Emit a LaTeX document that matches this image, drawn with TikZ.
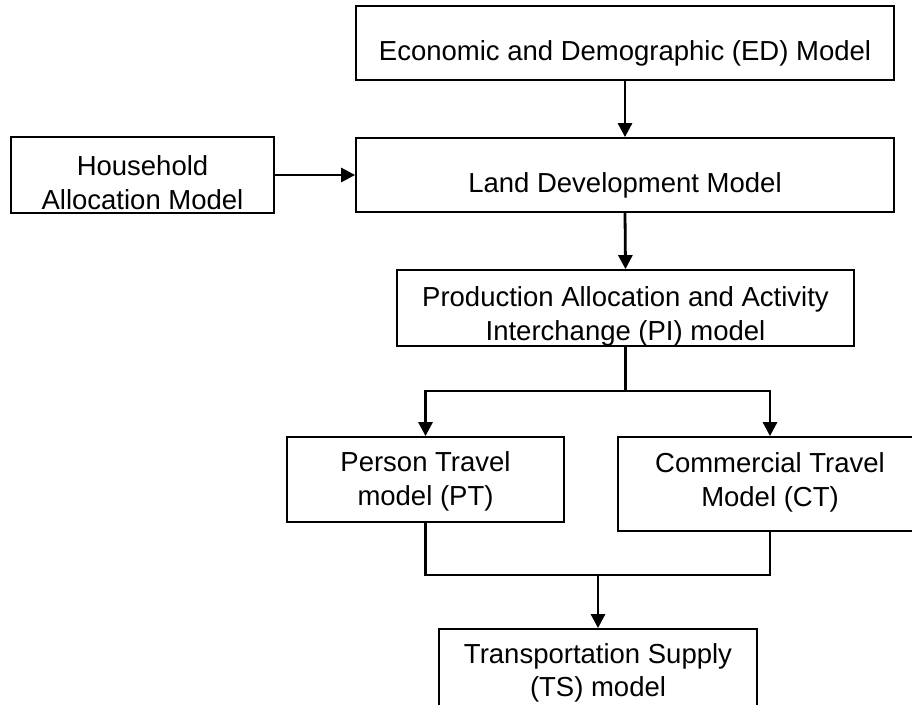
\documentclass[tikz,border=0pt]{standalone}
\usepackage{fontspec}
\setmainfont{Liberation Sans}
\usetikzlibrary{arrows.meta}
\tikzset{
  box/.style={draw=black, line width=1.8pt, fill=white, inner sep=0pt, rectangle},
  txt/.style={inner sep=0pt, align=center, font=\fontsize{27.5}{34}\selectfont},
  conn/.style={line width=2.8pt, -{Triangle[length=14pt,width=14pt]}},
  plain/.style={line width=2.8pt},
}
\begin{document}
\begin{tikzpicture}[x=1pt,y=-1pt]
\useasboundingbox (0,0) rectangle (912,704);
\clip (0,0) rectangle (912,704);
\fill[white] (0,0) rectangle (912,704);
% boxes
\node[box, minimum width=538pt, minimum height=74pt] (ed) at (625,43) {};
\node[box, minimum width=538pt, minimum height=74pt] (land) at (625,175) {};
\node[box, minimum width=263pt, minimum height=76pt] (hh) at (142.5,175) {};
\node[box, minimum width=457pt, minimum height=76pt] (pi) at (625.5,308) {};
\node[box, minimum width=277pt, minimum height=85pt] (pt) at (425.5,479.5) {};
\node[box, minimum width=304pt, minimum height=94pt] (ct) at (770,484) {};
\node[box, minimum width=318pt, minimum height=96pt] (ts) at (598,677) {};
% texts
\node[txt, anchor=base] (edt) at (625,60) {Economic and Demographic (ED) Model};
\node[txt, anchor=base] (landt) at (625,192) {Land Development Model};
\node[txt, anchor=north] (hht) at (142.5,155) {Household\\Allocation Model};
\node[txt, anchor=north] (pit) at (625.5,286) {Production Allocation and Activity\\Interchange (PI) model};
\node[txt, anchor=north] (ptt) at (425.5,451) {Person Travel\\model (PT)};
\node[txt, anchor=north] (ctt) at (770,452) {Commercial Travel\\Model (CT)};
\node[txt, anchor=north, font=\fontsize{27.5}{33}\selectfont] (tst) at (598,643) {Transportation Supply\\(TS) model};
% connectors
\coordinate (split) at (625.5,391);
\coordinate (merge) at (598,575);
\draw[conn] (ed.south) -- (land.north);
\draw[conn] (hh.east) -- (land.west);
\draw[conn] (land.south) -- (pi.north);
\draw[plain] (pi.south) -- (split);
\draw[conn] (split) -| (pt.north);
\draw[conn] (split) -| (ct.north);
\draw[plain] (pt.south) |- (merge);
\draw[plain] (ct.south) |- (merge);
\draw[conn] (merge) -- (ts.north);
\end{tikzpicture}
\end{document}
